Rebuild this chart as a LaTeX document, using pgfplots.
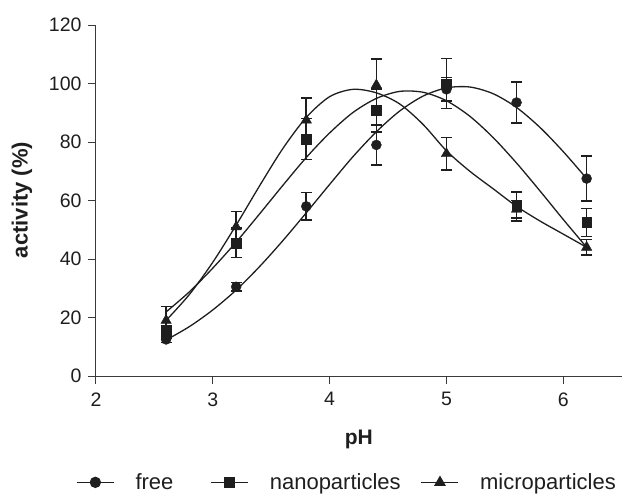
\documentclass[border=0pt]{standalone}
\usepackage{fontspec}
\setmainfont{Liberation Sans}
\usepackage{pgfplots}
\pgfplotsset{compat=1.18}
\usepackage{pgfplotstable}

\pgfplotstableread{
x y e
2.6 12.5 1.0
3.2 30.5 1.5
3.8 58 4.7
4.4 79 6.8
5.0 98 4
5.6 93.5 7
6.2 67.5 7.7
}\freedata
\pgfplotstableread{
x y e
2.6 15 2.0
3.2 45.5 5
3.8 81 7
4.4 90.8 7.4
5.0 100 8.5
5.6 58 5
6.2 52.5 4.8
}\nanodata
\pgfplotstableread{
x y e
2.6 19 4.7
3.2 51 5.2
3.8 87.5 7.5
4.4 99.5 8.8
5.0 76 5.6
5.6 57 3
6.2 44 2.6
}\microdata

\definecolor{ink}{HTML}{1E1E1E}
\definecolor{axisgray}{HTML}{3A3A3A}

\begin{document}
\begin{tikzpicture}
\begin{axis}[
  scale only axis, width=525.7pt, height=351pt,
  at={(96pt,-376pt)}, anchor=south west,
  xmin=2, xmax=6.5, ymin=0, ymax=120,
  axis x line*=bottom, axis y line*=left,
  axis line style={-, line width=1pt, color=axisgray},
  xtick={2,3,4,5,6}, ytick={0,20,40,60,80,100,120},
  tick align=outside, major tick length=8pt,
  tick style={line width=1pt, color=axisgray},
  /pgf/number format/assume math mode=true,
  ticklabel style={font=\fontsize{19.5}{23}\selectfont, text=ink},
  xticklabel style={yshift=-5pt},
  yticklabel style={xshift=-3pt},
  xlabel={\textbf{pH}},
  xlabel style={at={(axis description cs:0.5,-0.182)}, anchor=center, font=\fontsize{21}{25}\selectfont, text=ink},
  ylabel={\textbf{activity (\%)}},
  ylabel style={at={(axis description cs:-0.1408,0.5014)}, anchor=center, font=\fontsize{22}{26}\selectfont, text=ink},
  clip=false,
  legend columns=3,
  legend style={draw=none, fill=none, at={(axis description cs:-0.038,-0.303)}, anchor=west,
    inner sep=0pt, font=\fontsize{22}{26}\selectfont, text=ink,
    nodes={inner xsep=0pt, inner ysep=1pt},
    /tikz/every odd column/.append style={column sep=21pt},
    /tikz/every even column/.append style={column sep=0pt}},
  legend image code/.code={\draw[mark repeat=2,mark phase=2,#1] plot coordinates {(0pt,0pt) (18.5pt,0pt) (37pt,0pt)};},
  error bars/error bar style={line width=1.6pt, ink},
  error bars/error mark options={rotate=90, mark size=5.5pt, line width=1.6pt, ink},
]
% fitted curves
\addplot[ink, line width=1.3pt, smooth, no markers, forget plot] coordinates {
(2.6,12.3) (2.8,16.9) (3.0,22.6) (3.2,29.4) (3.4,37.4) (3.6,46.3) (3.8,55.8) (4.0,65.5) (4.2,75.0) (4.4,83.5) (4.6,90.6) (4.8,95.7) (5.0,98.5) (5.2,98.8) (5.4,96.5) (5.6,91.8) (5.8,85.0) (6.0,76.7) (6.2,67.5)};
\addplot[ink, line width=1.3pt, smooth, no markers, forget plot] coordinates {
(2.6,21.9) (2.8,28.8) (3.0,36.9) (3.2,45.8) (3.4,55.4) (3.6,65.2) (3.8,74.7) (4.0,83.1) (4.2,90.1) (4.4,94.9) (4.6,97.3) (4.8,97.0) (5.0,94.1) (5.2,88.8) (5.4,81.5) (5.6,72.8) (5.8,63.3) (6.0,53.5) (6.2,44.0)};
\addplot[ink, line width=1.3pt, smooth, no markers, forget plot] coordinates {
(2.6,19.0) (2.8,27.9) (3.0,38.9) (3.2,51.6) (3.4,65.0) (3.6,77.8) (3.8,88.4) (4.0,95.5) (4.2,98.0) (4.4,96.8) (4.6,93.0) (4.8,86.0) (5.0,77.0) (5.2,70.0) (5.4,64.0) (5.6,58.0) (5.8,53.0) (6.0,48.5) (6.2,44.0)};
% data with error bars
\addplot[ink, only marks, mark=*, mark size=5pt, forget plot,
  error bars/.cd, y dir=both, y explicit] table[x=x, y=y, y error=e] {\freedata};
\addplot[ink, only marks, mark=square*, mark size=4.8pt, forget plot,
  error bars/.cd, y dir=both, y explicit] table[x=x, y=y, y error=e] {\nanodata};
\addplot[ink, only marks, mark=triangle*, mark size=6pt, forget plot,
  error bars/.cd, y dir=both, y explicit] table[x=x, y=y, y error=e] {\microdata};
% legend
\addlegendimage{ink, line width=1.3pt, mark=*, mark size=5pt}
\addlegendentry{\makebox[75pt][l]{free}}
\addlegendimage{ink, line width=1.3pt, mark=square*, mark size=5pt}
\addlegendentry{\makebox[151pt][l]{nanoparticles}}
\addlegendimage{ink, line width=1.3pt, mark=triangle*, mark size=5.5pt}
\addlegendentry{microparticles}
\end{axis}
\pgfresetboundingbox
\path[use as bounding box] (0pt,0pt) rectangle (629pt,-497pt);
\end{tikzpicture}
\end{document}
